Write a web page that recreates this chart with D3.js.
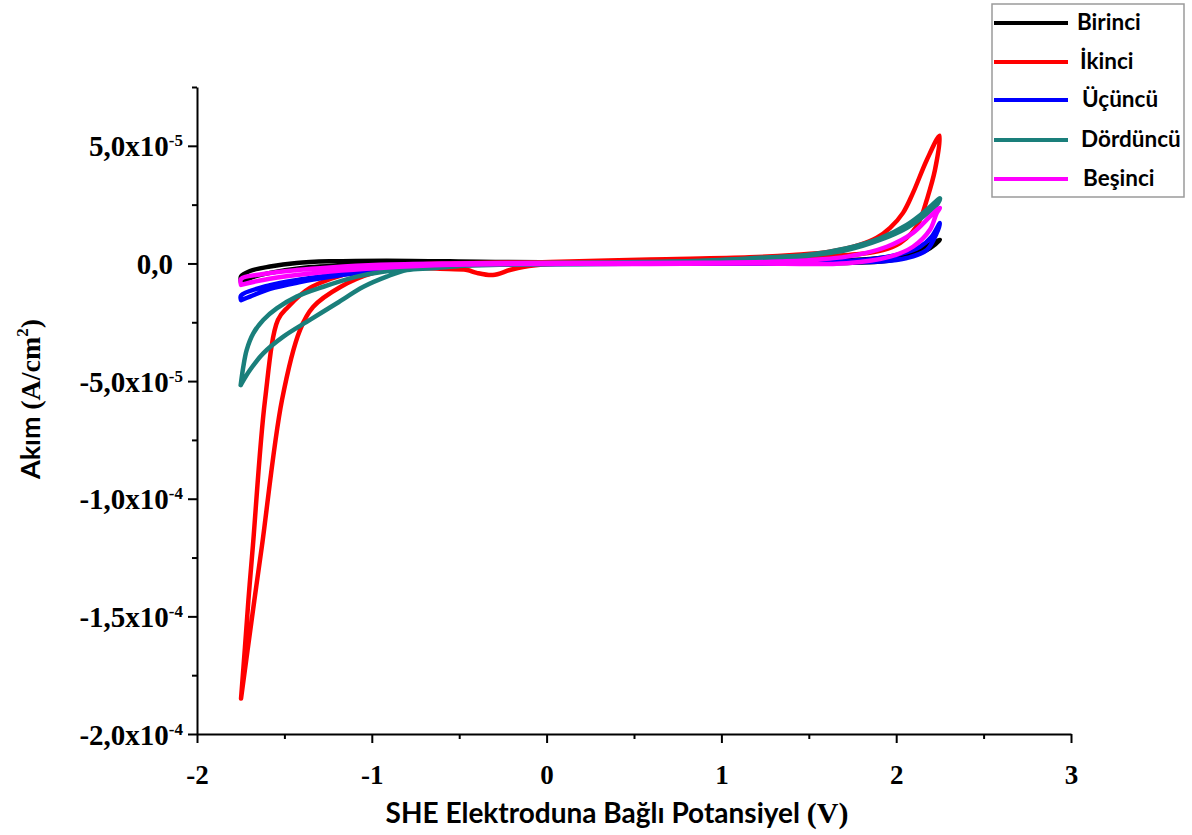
<!DOCTYPE html>
<html><head><meta charset="utf-8">
<script src="https://cdn.jsdelivr.net/npm/d3@7"></script>
<style>body{margin:0;background:#fff}</style>
</head><body><svg id="c" width="1192" height="835"></svg>
<script>
// ---------- data ----------
const seriesNames = ["Birinci", "İkinci", "Üçüncü", "Dördüncü", "Beşinci"];
const seriesColors = ["#000000", "#ff0000", "#0000ff", "#1a7f7b", "#ff00ff"];

// potential (V vs SHE) and current density (A/cm²)
const birinciV = [-1.748,-1.697,-1.582,-1.41,-1.125,-0.55,0.31,1.16,1.717,1.907,2.06,2.175,2.25, 2.21,2.136,2.02,1.85,1.45,0.88,0.31,-0.27,-0.915,-1.239,-1.43,-1.582,-1.697,-1.748,-1.748];
const birinciI = [-0.80e-5,-0.62e-5,-0.40e-5,-0.20e-5,-0.08e-5,-0.02e-5,0,0.01e-5,0.02e-5,0.08e-5,0.26e-5,0.57e-5,1.0e-5, 0.87e-5,0.62e-5,0.36e-5,0.19e-5,0.11e-5,0.06e-5,0.04e-5,0.06e-5,0.12e-5,0.09e-5,0.02e-5,-0.13e-5,-0.32e-5,-0.55e-5,-0.80e-5];

const ikinciV = [-1.748,-1.727,-1.706,-1.680,-1.611,-1.537,-1.479,-1.354,-1.125,-0.953,-0.55,0.02,0.59,1.16,1.41,1.62,1.79,1.889,1.965,2.039,2.096,2.175,2.248, 2.222,2.175,2.136,2.089,2.022,1.924,1.79,1.45,0.88,0.31,0.02,-0.135,-0.21,-0.307,-0.40,-0.455,-0.61,-0.80,-0.99,-1.18,-1.336,-1.411,-1.514,-1.628,-1.672,-1.711,-1.748];
const ikinciI = [-18.49e-5,-16.45e-5,-14.32e-5,-11.98e-5,-5.81e-5,-2.40e-5,-1.85e-5,-1.04e-5,-0.40e-5,-0.15e-5,0,0.06e-5,0.17e-5,0.26e-5,0.36e-5,0.50e-5,0.79e-5,1.09e-5,1.51e-5,2.15e-5,3.0e-5,4.40e-5,5.43e-5, 3.98e-5,2.70e-5,1.85e-5,1.30e-5,0.87e-5,0.57e-5,0.40e-5,0.28e-5,0.15e-5,0.04e-5,-0.02e-5,-0.15e-5,-0.28e-5,-0.49e-5,-0.40e-5,-0.28e-5,-0.23e-5,-0.19e-5,-0.40e-5,-1.0e-5,-1.85e-5,-2.83e-5,-5.81e-5,-11.98e-5,-14.32e-5,-16.45e-5,-18.49e-5];

const ucuncuV = [-1.748,-1.697,-1.582,-1.41,-1.239,-1.05,-0.84,-0.55,0.02,0.88,1.45,1.81,1.907,2.06,2.175,2.232,2.25, 2.203,2.136,2.003,1.81,1.45,0.88,0.31,-0.27,-0.55,-0.84,-1.05,-1.239,-1.41,-1.582,-1.748,-1.748];
const ucuncuI = [-1.56e-5,-1.41e-5,-1.08e-5,-0.79e-5,-0.57e-5,-0.37e-5,-0.17e-5,-0.07e-5,-0.02e-5,-0.01e-5,0,0.06e-5,0.08e-5,0.23e-5,0.57e-5,1.30e-5,1.72e-5, 1.14e-5,0.71e-5,0.36e-5,0.15e-5,0.06e-5,0.02e-5,0.01e-5,0,-0.05e-5,-0.15e-5,-0.33e-5,-0.50e-5,-0.68e-5,-0.92e-5,-1.36e-5,-1.56e-5];

const dorduncuV = [-1.75,-1.735,-1.716,-1.678,-1.621,-1.544,-1.43,-1.277,-1.086,-0.936,-0.65,-0.27,0.31,0.88,1.335,1.488,1.717,1.907,2.06,2.175,2.239,2.25, 2.175,2.06,1.907,1.717,1.488,1.335,0.88,0.31,-0.27,-0.65,-0.80,-0.915,-1.048,-1.20,-1.354,-1.506,-1.621,-1.697,-1.75];
const dorduncuI = [-5.17e-5,-4.39e-5,-3.68e-5,-2.97e-5,-2.40e-5,-1.91e-5,-1.41e-5,-0.99e-5,-0.56e-5,-0.35e-5,-0.15e-5,-0.06e-5,-0.02e-5,0.02e-5,0.19e-5,0.32e-5,0.57e-5,1.0e-5,1.51e-5,2.11e-5,2.56e-5,2.77e-5, 2.28e-5,1.64e-5,1.07e-5,0.65e-5,0.36e-5,0.29e-5,0.11e-5,0.04e-5,0,-0.20e-5,-0.28e-5,-0.56e-5,-0.99e-5,-1.69e-5,-2.40e-5,-3.11e-5,-3.82e-5,-4.53e-5,-5.17e-5];

const besinciV = [-1.748,-1.622,-1.43,-1.239,-0.953,-0.55,0.02,0.59,1.16,1.717,1.965,2.096,2.193,2.232,2.25, 2.193,2.096,1.946,1.717,1.335,0.88,0.31,-0.27,-0.55,-0.953,-1.239,-1.43,-1.622,-1.748,-1.748];
const besinciI = [-0.91e-5,-0.70e-5,-0.49e-5,-0.34e-5,-0.19e-5,-0.06e-5,-0.02e-5,-0.02e-5,0,0.01e-5,0.29e-5,0.71e-5,1.43e-5,2.15e-5,2.36e-5, 1.99e-5,1.30e-5,0.71e-5,0.29e-5,0.08e-5,0.03e-5,0.02e-5,0.02e-5,0,-0.06e-5,-0.17e-5,-0.28e-5,-0.45e-5,-0.66e-5,-0.91e-5];

const xTickValues = [-2, -1, 0, 1, 2, 3];
const xMinorTicks = [-1.5, -0.5, 0.5, 1.5, 2.5];
const yTickValues = [5e-5, 0, -5e-5, -1e-4, -1.5e-4, -2e-4];
const yTickMantissa = ["5,0x10", "0,0", "-5,0x10", "-1,0x10", "-1,5x10", "-2,0x10"];
const yTickExponent = ["-5", "", "-5", "-4", "-4", "-4"];
const yMinorTicks = [7.5e-5, 2.5e-5, -2.5e-5, -7.5e-5, -1.25e-4, -1.75e-4];

// ---------- chart ----------
const seriesV = [birinciV, ikinciV, ucuncuV, dorduncuV, besinciV];
const seriesI = [birinciI, ikinciI, ucuncuI, dorduncuI, besinciI];

const svg = d3.select("#c");
svg.append("rect").attr("width", 1192).attr("height", 835).attr("fill", "#fff");

const x = d3.scaleLinear().domain([-2, 3]).range([197, 1071]);
const y = d3.scaleLinear().domain([-2e-4, 7.5e-5]).range([734, 87]);

const serif = "'Liberation Serif', 'Times New Roman', serif";
const sans = "Lato, 'Open Sans', sans-serif";

// curves
const line = d3.line().x(d => x(d[0])).y(d => y(d[1])).curve(d3.curveCatmullRom.alpha(0.5));
seriesV.forEach((vs, k) => {
  const pts = vs.map((v, i) => [v, seriesI[k][i]]);
  svg.append("path").attr("d", line(pts)).attr("fill", "none")
    .attr("stroke", seriesColors[k]).attr("stroke-width", 4.5)
    .attr("stroke-linejoin", "round").attr("stroke-linecap", "round");
});

// x axis
const gx = svg.append("g").attr("transform", "translate(0,734)")
  .call(d3.axisBottom(x).tickValues(xTickValues).tickSize(9).tickSizeOuter(0).tickFormat(d => String(d)));
gx.append("g").call(d3.axisBottom(x).tickValues(xMinorTicks).tickSize(5).tickSizeOuter(0).tickFormat(""))
  .select(".domain").remove();
gx.selectAll("text").attr("y", 50).attr("dy", 0)
  .style("font-family", serif).style("font-weight", "bold").style("font-size", "27px").attr("fill", "#000");

// y axis
const gy = svg.append("g").attr("transform", "translate(197,0)")
  .call(d3.axisLeft(y).tickValues(yTickValues).tickSize(9).tickSizeOuter(0).tickFormat(""));
gy.append("g").call(d3.axisLeft(y).tickValues(yMinorTicks).tickSize(5).tickSizeOuter(0).tickFormat(""))
  .select(".domain").remove();
gy.selectAll(".tick").filter(d => yTickValues.includes(d)).each(function(d) {
  const i = yTickValues.indexOf(d);
  const t = d3.select(this).select("text");
  t.attr("x", yTickExponent[i] ? -14 : -24).attr("dy", "0.35em")
    .style("font-family", serif).style("font-weight", "bold").style("font-size", "29px").attr("fill", "#000");
  t.text(null);
  t.append("tspan").text(yTickMantissa[i]);
  if (yTickExponent[i]) t.append("tspan").attr("dy", -10).style("font-size", "17px").text(yTickExponent[i]);
});

svg.selectAll(".domain, .tick line").attr("stroke", "#000").attr("stroke-width", 2);

// axis titles
const xt = svg.append("text").attr("x", 617).attr("y", 823).attr("text-anchor", "middle")
  .style("font-size", "28px").attr("fill", "#000");
xt.append("tspan").style("font-family", sans).style("font-weight", "bold").text("SHE Elektroduna Bağlı Potansiyel ");
xt.append("tspan").style("font-family", serif).style("font-weight", "bold").style("font-size", "30px").text(" (V)");

const yt = svg.append("text").attr("transform", "translate(40,399) rotate(-90)").attr("text-anchor", "middle")
  .style("font-size", "27px").attr("fill", "#000");
yt.append("tspan").style("font-family", sans).style("font-weight", "bold").text("Akım ");
yt.append("tspan").style("font-family", serif).style("font-weight", "bold").style("font-size", "28px").text("(A/cm");
yt.append("tspan").style("font-family", serif).style("font-weight", "bold").style("font-size", "17px").attr("dy", -12).text("2");
yt.append("tspan").style("font-family", serif).style("font-weight", "bold").style("font-size", "28px").attr("dy", 12).text(")");

// legend
const lg = svg.append("g");
lg.append("rect").attr("x", 992).attr("y", 4).attr("width", 192).attr("height", 193)
  .attr("fill", "#fff").attr("stroke", "#9a9a9a").attr("stroke-width", 1.5);
const rowY = [23, 62, 100, 140, 179];
const labelX = [1077, 1080, 1082, 1081, 1083];
seriesNames.forEach((n, k) => {
  lg.append("line").attr("x1", 994).attr("x2", 1068).attr("y1", rowY[k]).attr("y2", rowY[k])
    .attr("stroke", seriesColors[k]).attr("stroke-width", 4);
  lg.append("text").attr("x", labelX[k]).attr("y", rowY[k] + 7)
    .style("font-family", sans).style("font-weight", "bold").style("font-size", "22.5px").attr("fill", "#000").text(n);
});
</script>
</body></html>
